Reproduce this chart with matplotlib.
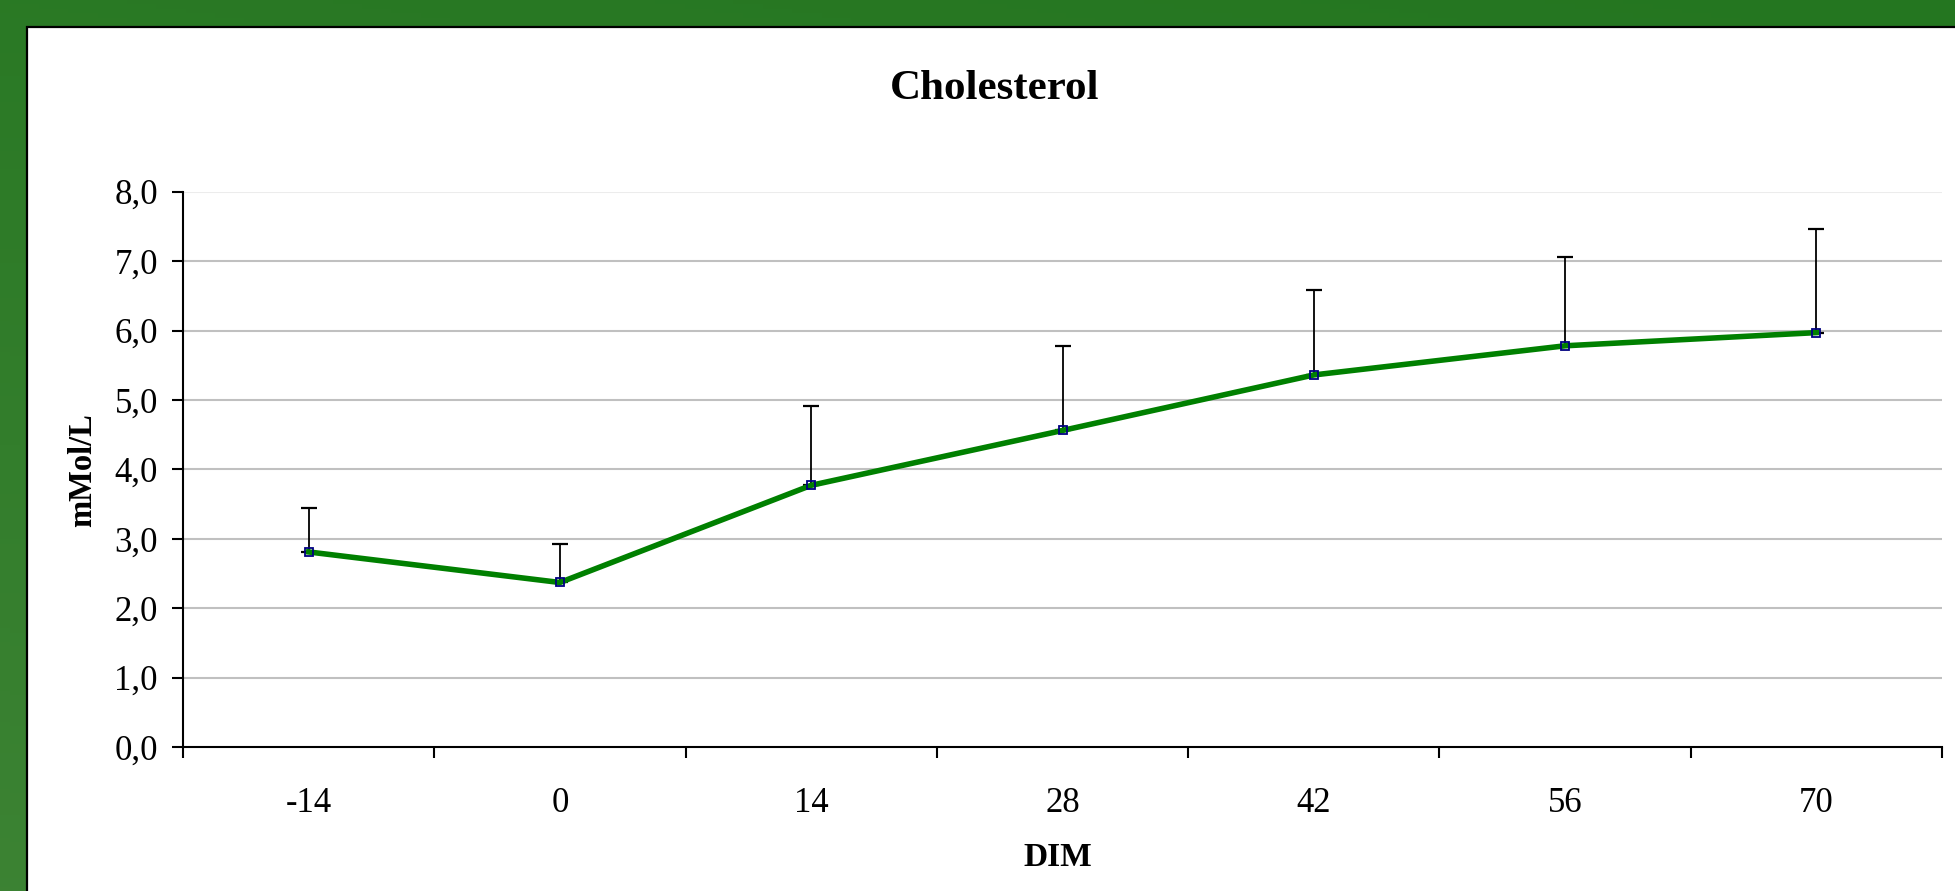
import numpy as np
import matplotlib
matplotlib.use("Agg")
import matplotlib.pyplot as plt
from matplotlib.patches import Rectangle

categories = ["-14", "0", "14", "28", "42", "56", "70"]
means = [2.81, 2.37, 3.77, 4.56, 5.36, 5.78, 5.97]
upper = [3.44, 2.93, 4.91, 5.78, 6.58, 7.06, 7.46]
yticks = [0, 1, 2, 3, 4, 5, 6, 7, 8]
ytick_labels = ["0,0", "1,0", "2,0", "3,0", "4,0", "5,0", "6,0", "7,0", "8,0"]

plt.rcParams['font.family'] = ['Liberation Serif', 'DejaVu Serif']

W, H = 1956, 891
fig = plt.figure(figsize=(W / 100, H / 100), dpi=100)

# green background with subtle gradient
bg = fig.add_axes([0, 0, 1, 1])
bg.set_axis_off()
gy, gx = np.mgrid[0:1:200j, 0:1:200j]
t = 0.6 * gy + 0.2 * (1 - gx)
c0 = np.array([36, 118, 32]) / 255.0
c1 = np.array([66, 134, 56]) / 255.0
img = c0[None, None, :] * (1 - t[..., None]) + c1[None, None, :] * t[..., None]
bg.imshow(img, extent=[0, 1, 0, 1], aspect='auto', origin='upper')
bg.set_xlim(0, 1)
bg.set_ylim(0, 1)
px = 1.0 / W
py = 1.0 / H
bg.add_patch(Rectangle((27 * px, -0.01), 1.0, 1 - 27 * py + 0.01,
                       facecolor='white', edgecolor='black', linewidth=1.6))

ax = fig.add_axes([183 / W, 1 - 747 / H, (1942 - 183) / W, (747 - 191.7) / H])
ax.set_facecolor('none')
x = np.arange(len(categories))
means_arr = np.array(means)
err = np.array(upper) - means_arr

ax.set_xlim(-0.5, len(categories) - 0.5)
ax.set_ylim(0, 8)
for v in yticks[1:-1]:
    ax.axhline(v, color='#c0c0c0', lw=1.5, zorder=0)
ax.axhline(8, color='#ececec', lw=1.5, zorder=0)

ax.errorbar(x, means_arr, yerr=[np.zeros_like(err), err], fmt='none',
            ecolor='black', elinewidth=1.3, capsize=5.5, capthick=1.6, zorder=2)
ax.plot(x, means_arr, color='#008000', lw=4.0, zorder=3)
ax.plot(x, means_arr, ls='none', marker='s', markersize=5.5, markerfacecolor='none',
        markeredgecolor='#000080', markeredgewidth=1.3, zorder=4)

for s in ['top', 'right']:
    ax.spines[s].set_visible(False)
for s in ['left', 'bottom']:
    ax.spines[s].set_linewidth(1.5)
    ax.spines[s].set_color('black')

ax.set_yticks(yticks)
ax.set_yticklabels(ytick_labels, fontsize=25)
ax.tick_params(axis='y', direction='out', length=8, width=1.5, pad=10)

ax.set_xticks(x)
ax.set_xticklabels(categories, fontsize=25)
ax.set_xticks(np.arange(-0.5, len(categories)), minor=True)
ax.tick_params(axis='x', which='major', length=0, pad=29)
ax.tick_params(axis='x', which='minor', direction='out', length=8, width=1.5)

fig.text(995 / W, 1 - 89 / H, "Cholesterol", ha='center', va='center',
         fontsize=31, fontweight='bold')
fig.text(1058 / W, 1 - 858 / H, "DIM", ha='center', va='center',
         fontsize=24, fontweight='bold')
fig.text(83 / W, 1 - 470 / H, "mMol/L", ha='center', va='center',
         rotation=90, fontsize=23.5, fontweight='bold')

fig.savefig("out.png", dpi=100)
